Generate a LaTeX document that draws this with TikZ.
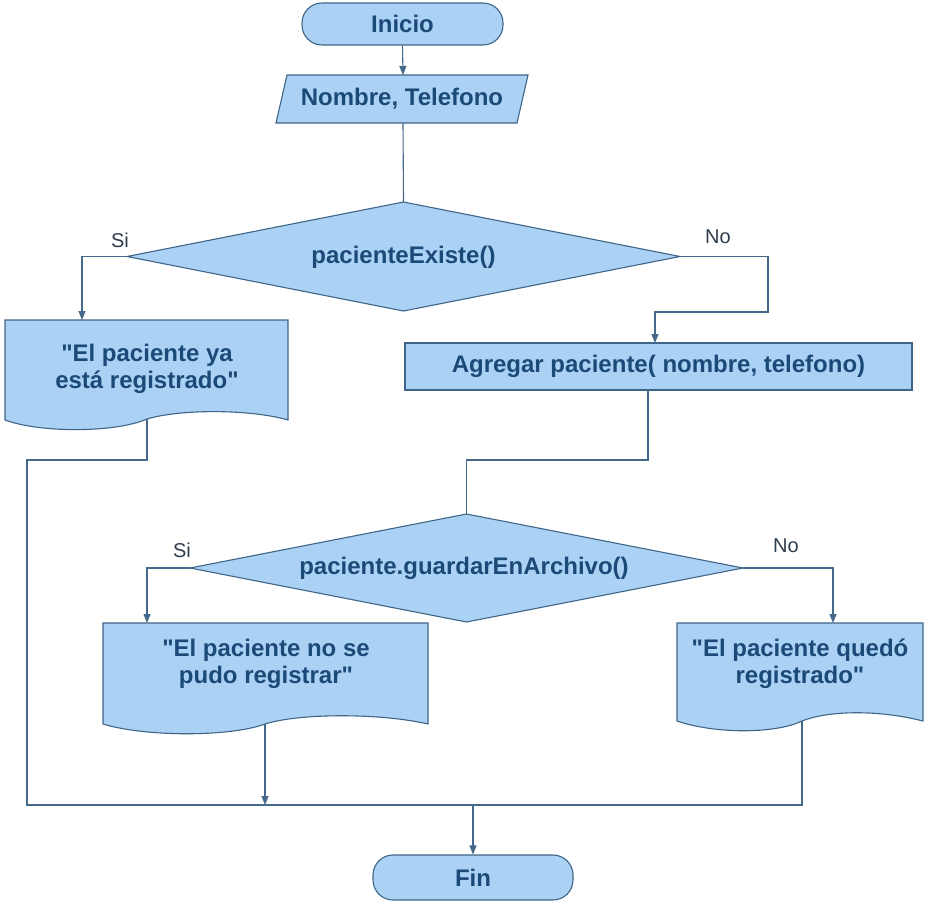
\documentclass[tikz,border=0pt]{standalone}
\usepackage{fontspec}
\setmainfont{Liberation Sans}[Ligatures=TeXOff]
\usetikzlibrary{shapes.geometric,arrows.meta}
\definecolor{fillb}{HTML}{ABD1F4}
\definecolor{edgeb}{HTML}{3F6688}
\definecolor{txtb}{HTML}{1C4A78}
\definecolor{lineb}{HTML}{44698A}
\definecolor{lblc}{HTML}{2E3D4C}
\begin{document}
\begin{tikzpicture}[x=1pt,y=-1pt,
  shapebox/.style={draw=edgeb,fill=fillb,line width=1.1pt},
  maintext/.style={text=txtb,font=\bfseries\fontsize{24}{27}\selectfont,align=center,inner sep=0pt},
  conn/.style={draw=lineb,line width=1.1pt},
  arr/.style={conn,-{Triangle[length=9pt,width=7pt]}},
  lbl/.style={text=lblc,font=\fontsize{20}{22}\selectfont,inner sep=0pt}]
\useasboundingbox[fill=white] (0,0) rectangle (926,904);

% Inicio
\node[shapebox,maintext,rounded corners=20pt,minimum width=201pt,minimum height=42pt] (inicio) at (402.5,24) {Inicio};

% Datos (parallelogram)
\draw[shapebox] (287,75) -- (528,75) -- (517,123) -- (276,123) -- cycle;
\node[maintext] (datos) at (402,99) {Nombre, Telefono};
\coordinate (datosT) at (403,75);
\coordinate (datosB) at (403,123);

% Decision 1
\coordinate (d1N) at (403.5,202);
\coordinate (d1S) at (403.5,311);
\coordinate (d1W) at (127,256.5);
\coordinate (d1E) at (680,256.5);
\draw[shapebox] (d1N) -- (d1E) -- (d1S) -- (d1W) -- cycle;
\node[maintext] (d1) at (403.5,257) {pacienteExiste()};

% Doc 1
\draw[shapebox] (5,320) -- (288,320) -- (288,420)
  .. controls (250,409) and (180,409) .. (147,419)
  .. controls (115,433) and (40,433) .. (5,420) -- cycle;
\node[maintext] (doc1) at (147,369) {"El paciente ya\\está registrado"};
\coordinate (doc1T) at (82,320);
\coordinate (doc1B) at (147,419);

% Agregar
\node[shapebox,maintext,minimum width=507pt,minimum height=47pt] (agregar) at (658.5,366.5) {Agregar paciente( nombre, telefono)};
\coordinate (agrT) at (655,343);
\coordinate (agrB) at (648,390);

% Decision 2
\coordinate (d2N) at (466.5,514);
\coordinate (d2S) at (466.5,622);
\coordinate (d2W) at (190,568);
\coordinate (d2E) at (743,568);
\draw[shapebox] (d2N) -- (d2E) -- (d2S) -- (d2W) -- cycle;
\node[maintext] (d2) at (464,568) {paciente.guardarEnArchivo()};

% Doc 2
\draw[shapebox] (103,623) -- (428,623) -- (428,724)
  .. controls (380,713) and (300,713) .. (265,724)
  .. controls (230,737) and (145,737) .. (103,724) -- cycle;
\node[maintext] (doc2) at (266,664) {"El paciente no se\\pudo registrar"};
\coordinate (doc2T) at (147,623);
\coordinate (doc2B) at (265,724);

% Doc 3
\draw[shapebox] (677,623) -- (923,623) -- (923,721)
  .. controls (880,710) and (830,710) .. (802,721)
  .. controls (775,734) and (715,734) .. (677,721) -- cycle;
\node[maintext] (doc3) at (800,664) {"El paciente quedó\\registrado"};
\coordinate (doc3T) at (833,623);
\coordinate (doc3B) at (802,721);

% Fin
\node[shapebox,maintext,rounded corners=20pt,minimum width=200pt,minimum height=45pt] (fin) at (473,877.5) {Fin};

% helper coordinates
\coordinate (bend1) at (768,312);
\coordinate (j1) at (648,460);
\coordinate (j2) at (27,460);
\coordinate (j3) at (27,805);

% connectors
\draw[arr] (inicio.south) -- (datosT);
\draw[conn] (datosB) -- (d1N);
\draw[arr] (d1W) -| (doc1T);
\draw[arr] (d1E) -| (bend1) -| (agrT);
\draw[conn] (agrB) -- (j1) -| (d2N);
\draw[arr] (d2W) -| (doc2T);
\draw[arr] (d2E) -| (doc3T);
\draw[conn] (doc1B) |- (j2) -- (j3) -| (doc3B);
\draw[arr] (doc2B) -- (doc2B |- j3);
\draw[arr] (fin.north |- j3) -- (fin.north);

% labels
\node[lbl] (si1) at (120,240) {Si};
\node[lbl] (no1) at (718,237) {No};
\node[lbl] (si2) at (182,550) {Si};
\node[lbl] (no2) at (786,546) {No};
\end{tikzpicture}
\end{document}
